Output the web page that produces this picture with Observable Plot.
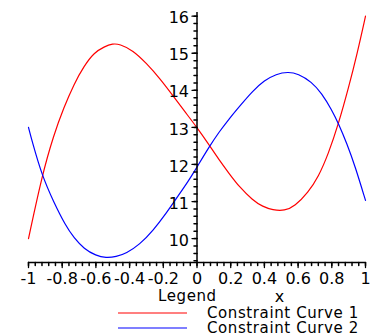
<!DOCTYPE html>
<html>
<head>
<meta charset="utf-8">
<script src="https://cdn.jsdelivr.net/npm/d3@7"></script>
<script src="https://cdn.jsdelivr.net/npm/@observablehq/plot@0.6"></script>
<style>
  body { margin: 0; background: #fff; }
  #chart svg { display: block; }
</style>
</head>
<body>
<div id="chart"></div>
<script>
// Series
const seriesNames = ["Constraint Curve 1", "Constraint Curve 2"];
const seriesColors = ["#ff0000", "#0000ff"];

const curve1X = [-1, -0.92, -0.85, -0.79, -0.73, -0.67, -0.61, -0.55, -0.5, -0.46, -0.38, -0.3, -0.22, -0.15, -0.08, 0, 0.07, 0.13, 0.19, 0.25, 0.33, 0.39, 0.45, 0.52, 0.58, 0.66, 0.72, 0.78, 0.84, 0.9, 0.95, 1];
const curve1Y = [10.0, 11.7, 12.8, 13.54, 14.17, 14.66, 15.02, 15.18, 15.26, 15.25, 15.08, 14.73, 14.32, 13.9, 13.47, 13.0, 12.54, 12.13, 11.76, 11.4, 11.04, 10.86, 10.77, 10.75, 10.87, 11.25, 11.66, 12.29, 13.1, 14.08, 14.98, 16.0];

const curve2X = [-1, -0.98, -0.92, -0.85, -0.78, -0.73, -0.67, -0.6, -0.54, -0.48, -0.42, -0.34, -0.26, -0.18, -0.12, -0.05, 0, 0.07, 0.13, 0.19, 0.26, 0.33, 0.4, 0.47, 0.54, 0.6, 0.68, 0.74, 0.8, 0.84, 0.89, 0.94, 1];
const curve2Y = [13.0, 12.65, 11.7, 10.98, 10.35, 10.02, 9.72, 9.54, 9.48, 9.51, 9.6, 9.84, 10.22, 10.7, 11.1, 11.56, 11.93, 12.46, 12.87, 13.23, 13.61, 13.98, 14.27, 14.44, 14.5, 14.45, 14.23, 13.92, 13.47, 13.1, 12.56, 11.93, 11.03];

// Axes
const xDomain = [-1, 1];
const yDomain = [9.355, 16.1];
const xTickValues = [-1, -0.8, -0.6, -0.4, -0.2, 0, 0.2, 0.4, 0.6, 0.8, 1];
const xTickLabels = ["-1", "-0.8", "-0.6", "-0.4", "-0.2", "0", "0.2", "0.4", "0.6", "0.8", "1"];
const yTickValues = [10, 11, 12, 13, 14, 15, 16];
const yTickLabels = ["10", "11", "12", "13", "14", "15", "16"];
const xLabel = "x";
const legendTitle = "Legend";

const font = "'DejaVu Sans', sans-serif";

const points = [
  ...curve1X.map((x, i) => ({series: seriesNames[0], x, y: curve1Y[i]})),
  ...curve2X.map((x, i) => ({series: seriesNames[1], x, y: curve2Y[i]}))
];

// minor tick positions
const xMinor = d3.range(-1, 1.0001, 0.04).map(v => +v.toFixed(2));
const yMinor = d3.range(9.4, 16.0001, 0.2).map(v => +v.toFixed(1));

// a straight tick drawn from the anchor point
const tickShape = {draw(ctx, l) { ctx.moveTo(0, 0); ctx.lineTo(0, -l); }};

const chart = Plot.plot({
  width: 378,
  height: 335,
  marginLeft: 28,
  marginRight: 13,
  marginTop: 12,
  marginBottom: 73,
  style: {fontFamily: font, fontSize: "16px", background: "#fff", color: "#000"},
  x: {domain: xDomain, axis: null},
  y: {domain: yDomain, axis: null},
  color: {domain: seriesNames, range: seriesColors},
  marks: [
    Plot.line(points, {x: "x", y: "y", stroke: "series", curve: "basis", strokeWidth: 1.2}),
    // axis lines
    Plot.ruleX([0], {y1: yDomain[0], y2: yDomain[1], stroke: "#000", strokeWidth: 1.5}),
    Plot.ruleY([yDomain[0]], {x1: xDomain[0], x2: xDomain[1], stroke: "#000", strokeWidth: 1.5}),
    // x ticks
    Plot.vector(xMinor, {x: d => d, y: yDomain[0], length: 3, rotate: 180, anchor: "start", shape: tickShape, stroke: "#000"}),
    Plot.vector(xTickValues, {x: d => d, y: yDomain[0], length: 5, rotate: 180, anchor: "start", shape: tickShape, stroke: "#000", strokeWidth: 1.3}),
    Plot.text(xTickValues, {x: d => d, y: yDomain[0], text: (d, i) => xTickLabels[i], lineAnchor: "top", dy: 10, fontSize: 16, fill: "#000"}),
    // y ticks
    Plot.vector(yMinor, {x: 0, y: d => d, length: 3, rotate: -90, anchor: "start", shape: tickShape, stroke: "#000"}),
    Plot.vector(yTickValues, {x: 0, y: d => d, length: 5, rotate: -90, anchor: "start", shape: tickShape, stroke: "#000", strokeWidth: 1.3}),
    Plot.text(yTickValues, {x: 0, y: d => d, text: (d, i) => yTickLabels[i], textAnchor: "end", dx: -8, dy: 2, fontSize: 16, fill: "#000"}),
    // axis label
    Plot.text([xLabel], {x: 0.49, y: yDomain[0], lineAnchor: "bottom", dy: 39, fontSize: 16, fill: "#000"})
  ]
});

// legend below the axes
const g = d3.select(chart).append("g")
  .attr("font-family", font)
  .attr("font-size", 15)
  .attr("letter-spacing", "0.6px")
  .attr("text-anchor", "start")
  .attr("fill", "#000");
g.append("text").attr("x", 158).attr("y", 301).text(legendTitle);
seriesNames.forEach((name, i) => {
  const y = 313 + i * 15;
  g.append("line")
    .attr("x1", 118).attr("x2", 187)
    .attr("y1", y).attr("y2", y)
    .attr("stroke", seriesColors[i])
    .attr("stroke-width", 1.2);
  g.append("text").attr("x", 207).attr("y", y + 4.5).text(name);
});

document.getElementById("chart").appendChild(chart);
</script>
</body>
</html>
